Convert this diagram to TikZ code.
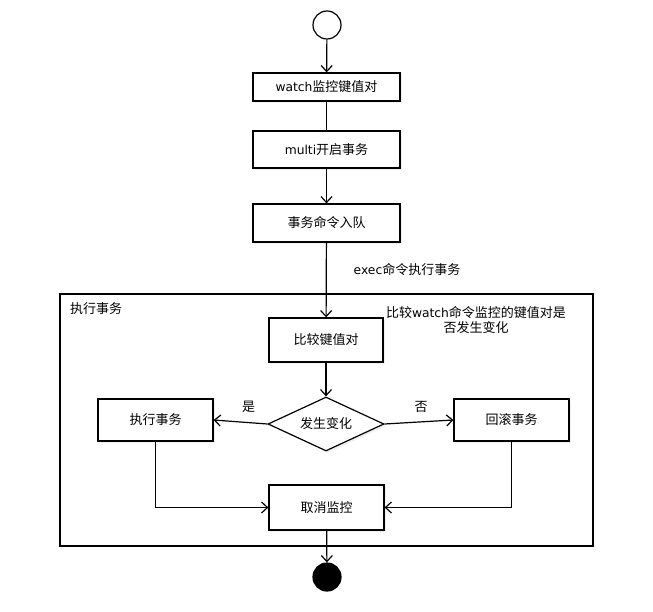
\documentclass[tikz,border=0pt]{standalone}
\usepackage{fontspec}
\setmainfont{Noto Sans CJK SC}
\newfontfamily\latfont{DejaVu Sans}
\newcommand{\lat}[1]{{\latfont\fontsize{12.3}{15}\selectfont #1}}
\usetikzlibrary{arrows.meta,shapes.geometric,shadows}
\begin{document}
\begin{tikzpicture}[x=1pt,y=-1pt,
  font=\fontsize{13}{15.5}\selectfont,
  lw/.style={line width=1.2pt},
  box/.style={draw, lw, fill=white, inner sep=0pt,
    drop shadow={opacity=0.12, shadow xshift=2pt, shadow yshift=-2pt}},
  link/.style={lw, -{Straight Barb[length=6pt,width=11pt,line width=1.2pt]}},
  plainlink/.style={lw},
  txt/.style={inner sep=0pt, align=center}
]
\useasboundingbox (0,0) rectangle (653,612);

% frame
\node[draw, lw, minimum width=533pt, minimum height=252pt, inner sep=0pt] (frame) at (326.5,420) {};
\node[txt] (framelabel) at (96,309) {执行事务};

% top part
\node[draw, lw, circle, minimum size=28pt, inner sep=0pt, fill=white] (start) at (327,25) {};
\node[box, minimum width=147pt, minimum height=28pt] (watch) at (326.5,87) {\lat{watch}监控键值对};
\node[box, minimum width=147pt, minimum height=37pt] (multi) at (326.5,149.5) {\lat{multi}开启事务};
\node[box, minimum width=147pt, minimum height=38pt] (queue) at (326.5,223) {事务命令入队};
\node[txt] (execlabel) at (407,270) {\lat{exec}命令执行事务};

% inside frame
\node[box, minimum width=114pt, minimum height=44pt] (compare) at (326,340) {比较键值对};
\node[txt] (comment) at (476,320) {比较\lat{watch}命令监控的键值对是\\否发生变化};
\node[box, diamond, aspect=2.15, minimum width=116pt, minimum height=54pt] (decide) at (326,424) {发生变化};
\node[box, minimum width=115pt, minimum height=42pt] (exec) at (155.5,420) {执行事务};
\node[box, minimum width=115pt, minimum height=42pt] (rollback) at (511.5,420) {回滚事务};
\node[box, minimum width=115pt, minimum height=45pt] (cancel) at (326.5,507.5) {取消监控};
\node[draw, lw, circle, fill=black, minimum size=28pt, inner sep=0pt] (end) at (327,577) {};

% connectors
\draw[link] (start) -- (watch);
\draw[plainlink] (watch) -- (multi);
\draw[link] (multi) -- (queue);
\draw[link] (queue) -- (compare);
\draw[link] (compare) -- (decide);
\draw[link] (decide.west) -- node[pos=0.35, above=9pt, inner sep=0pt] (yes) {是} (exec.east);
\draw[link] (decide.east) -- node[pos=0.53, above=9pt, inner sep=0pt] (no) {否} (rollback.west);
\draw[link] (exec.south) |- (cancel.west);
\draw[link] (rollback.south) |- (cancel.east);
\draw[link] (cancel) -- (end);
\end{tikzpicture}
\end{document}
